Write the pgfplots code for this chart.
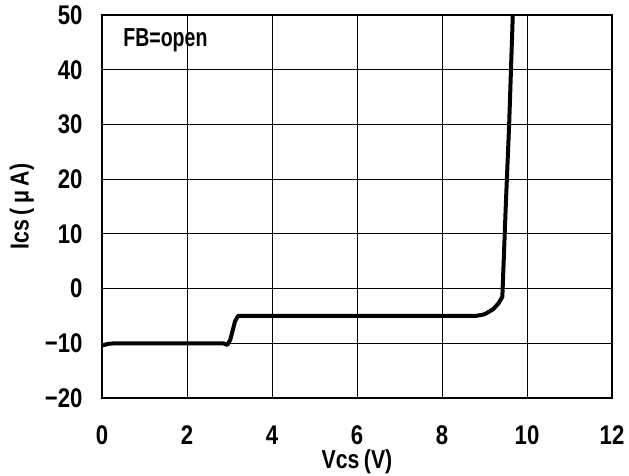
\documentclass[border=0pt]{standalone}
\usepackage{fontspec}
\setmainfont{Liberation Sans}[FakeStretch=0.82]
\newfontfamily\fbfont{Liberation Sans}[FakeStretch=0.75]
\usepackage{pgfplots}
\pgfplotsset{compat=1.18}
\begin{document}
\begin{tikzpicture}
\begin{axis}[
  scale only axis, width=510pt, height=383pt,
  xmin=0, xmax=12, ymin=-20, ymax=50,
  xtick={0,2,...,12}, ytick={-20,-10,...,50},
  yticklabels={−20,−10,0,10,20,30,40,50},
  grid=major, major grid style={black, line width=1pt},
  axis line style={black, line width=2pt},
  tick style={draw=none},
  /pgf/number format/assume math mode=true,
  tick label style={font=\fontsize{27}{30}\selectfont\bfseries},
  xticklabel style={anchor=center, yshift=-37pt},
  yticklabel style={anchor=east, xshift=-16pt},
  xlabel={Vcs\,(V)}, ylabel={Ics\,(\,μ\,A)},
  label style={font=\fontsize{26}{29}\selectfont\bfseries},
  xlabel style={at={(axis description cs:0.5,-0.167)}, anchor=center},
  ylabel style={at={(axis description cs:-0.157,0.5)}, anchor=center},
  clip=true,
]
\addplot[black, line width=4pt, line join=round] coordinates {
 (0,-10.4) (0.15,-10.1) (0.3,-10) (2.85,-10) (2.95,-10.3) (3.02,-9.3) (3.08,-7.5) (3.13,-6) (3.2,-5)
 (8.8,-5) (9.0,-4.7) (9.2,-3.8) (9.33,-2.7) (9.42,-1.5) (9.5,15) (9.58,30) (9.67,51)
};
\node[anchor=west, inner sep=0pt, font=\fbfont\fontsize{26}{29}\selectfont\bfseries] at (axis cs:0.5,45.3) {FB=open};
\end{axis}
\pgfresetboundingbox
\path ([shift={(-102pt,-78pt)}]current axis.south west) rectangle ([shift={(17pt,15pt)}]current axis.north east);
\end{tikzpicture}
\end{document}
